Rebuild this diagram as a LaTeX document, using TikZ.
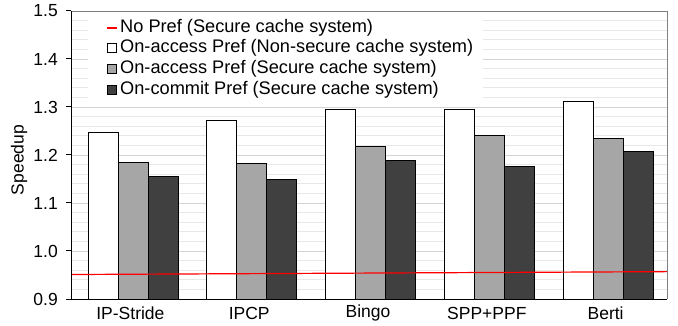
\documentclass[tikz,border=0pt]{standalone}
\usepackage{fontspec}
\setmainfont{Liberation Sans}
\begin{document}
\begin{tikzpicture}[x=1pt,y=-1pt,
  lbl/.style={font=\fontsize{17.5}{20}\selectfont, inner sep=0pt},
  leglbl/.style={font=\fontsize{18.2}{21}\selectfont, inner sep=0pt},
  minorgrid/.style={draw=black!9, line width=0.8pt},
  majorgrid/.style={draw=black!17, line width=0.8pt},
  barw/.style={draw=black, line width=0.8pt, fill=white},
  barg/.style={draw=black, line width=0.8pt, fill=black!35},
  bard/.style={draw=black, line width=0.8pt, fill=black!75},
  legsq/.style={draw=black, line width=0.7pt, minimum size=9pt, inner sep=0pt}]
\useasboundingbox (0,0) rectangle (678,326);
% minor gridlines
\foreach \v in {0.92,0.94,...,1.49}
  \draw[minorgrid] (71,{299-(\v-0.9)*480}) -- (667,{299-(\v-0.9)*480});
\foreach \v in {1.0,1.1,1.2,1.3,1.4}
  \draw[majorgrid] (71,{299-(\v-0.9)*480}) -- (667,{299-(\v-0.9)*480});
% plot border
\draw[black!50, line width=0.9pt] (71,11) -- (667,11) -- (667,299);
% legend background
\fill[white] (88,13) rectangle (483,103);
% bars
\foreach \i/\a/\b/\c in {0/1.247/1.184/1.156, 1/1.272/1.182/1.150, 2/1.294/1.218/1.188, 3/1.294/1.240/1.177, 4/1.312/1.235/1.207}{
  \pgfmathsetmacro{\gx}{71+118.8*\i}
  \draw[barw] (\gx+17,299) rectangle (\gx+47,{299-(\a-0.9)*480});
  \draw[barg] (\gx+47,299) rectangle (\gx+77,{299-(\b-0.9)*480});
  \draw[bard] (\gx+77,299) rectangle (\gx+107,{299-(\c-0.9)*480});
}
% red baseline
\draw[red, line width=1.2pt] (71,{299-(0.951-0.9)*480}) -- (667,{299-(0.957-0.9)*480});
% axes
\draw[black, line width=1pt] (71,11) -- (71,299) -- (667,299);
\foreach \v/\t in {0.9/0.9,1.0/1.0,1.1/1.1,1.2/1.2,1.3/1.3,1.4/1.4,1.5/1.5}{
  \draw[black, line width=1pt] (66,{299-(\v-0.9)*480}) -- (71,{299-(\v-0.9)*480});
  \node[lbl, anchor=east] (t\t) at (58,{299-(\v-0.9)*480}) {\t};
}
% category labels
\foreach \i/\n in {0/IP-Stride,1/IPCP,2/Bingo,3/SPP+PPF,4/Berti}
  \node[lbl] (c\i) at ({71+118.8*\i+59.4},313) {\n};
% y label
\node[lbl, rotate=90] (ylab) at (19,160) {Speedup};
% legend
\draw[red, line width=1.2pt] (107,28) -- (117,28);
\node[leglbl, anchor=west] (l1) at (120,28) {No Pref (Secure cache system)};
\node[legsq, fill=white] (s2) at (112,48) {};
\node[leglbl, anchor=west] (l2) at (120,48) {On-access Pref (Non-secure cache system)};
\node[legsq, fill=black!35] (s3) at (112,68.5) {};
\node[leglbl, anchor=west] (l3) at (120,68.5) {On-access Pref (Secure cache system)};
\node[legsq, fill=black!75] (s4) at (112,89.5) {};
\node[leglbl, anchor=west] (l4) at (120,89.5) {On-commit Pref (Secure cache system)};
\end{tikzpicture}
\end{document}
